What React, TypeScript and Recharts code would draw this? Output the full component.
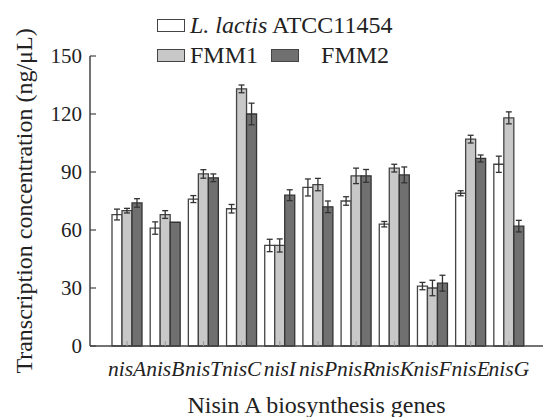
import { BarChart, Bar, XAxis, YAxis, ErrorBar, Legend, Label } from 'recharts';

const genes = ['nisA', 'nisB', 'nisT', 'nisC', 'nisI', 'nisP', 'nisR', 'nisK', 'nisF', 'nisE', 'nisG'];
const lactis = [68, 61, 76, 71, 52, 82, 75, 63, 31, 79, 94];
const lactisErr = [2.8, 3.2, 1.8, 2.2, 3.2, 4.4, 2.2, 1.4, 1.9, 1.3, 4.2];
const fmm1 = [70, 68, 89, 133, 52, 83.5, 88, 92, 30, 107, 118];
const fmm1Err = [1.2, 2, 2.2, 2, 3.4, 3.2, 4, 2, 4, 2, 3.1];
const fmm2 = [74, 64, 87, 120, 78, 72, 88, 88.5, 32.5, 97, 62];
const fmm2Err = [2.2, 0, 2, 5.6, 2.8, 3, 3.3, 4.1, 4.1, 1.8, 3];
const yTicks = [0, 30, 60, 90, 120, 150];

const data = genes.map((g, i) => ({
  gene: g,
  lactis: lactis[i],
  lactisErr: lactisErr[i],
  fmm1: fmm1[i],
  fmm1Err: fmm1Err[i],
  fmm2: fmm2[i],
  fmm2Err: fmm2Err[i],
}));

const FONT = 'Liberation Serif';
const TEXT = '#222';

function LegendBox({ fill }: { fill: string }) {
  return (
    <span
      style={{
        display: 'inline-block',
        width: 26,
        height: 11,
        background: fill,
        border: '1.5px solid #444',
        marginRight: 5,
      }}
    />
  );
}

function TopLegend() {
  return (
    <div style={{ fontFamily: FONT, fontSize: 24, color: TEXT, lineHeight: '30px' }}>
      <div style={{ display: 'flex', alignItems: 'center' }}>
        <LegendBox fill="#ffffff" />
        <span>
          <i>L. lactis</i> ATCC11454
        </span>
      </div>
      <div style={{ display: 'flex', alignItems: 'center' }}>
        <LegendBox fill="#c8c8c8" />
        <span style={{ marginRight: 13 }}>FMM1</span>
        <LegendBox fill="#707070" />
        <span style={{ marginLeft: 17 }}>FMM2</span>
      </div>
    </div>
  );
}

export default function App() {
  return (
    <div style={{ position: 'absolute', left: 0, top: 0, background: '#fff', fontFamily: FONT }}>
      <BarChart
        width={543}
        height={417}
        data={data}
        margin={{ top: 56, right: 0, bottom: 0, left: 0 }}
        barSize={10}
        barGap={0}
        style={{ fontFamily: FONT }}
      >
        <XAxis
          dataKey="gene"
          height={71}
          padding={{ left: 18, right: 15 }}
          axisLine={{ stroke: '#444', strokeWidth: 1.5 }}
          tickLine={{ stroke: '#999' }}
          tickSize={-5}
          tickMargin={20}
          interval={0}
          tick={{ fontFamily: FONT, fontSize: 21.5, fontStyle: 'italic', fill: TEXT }}
        >
          <Label
            value="Nisin A biosynthesis genes"
            position="insideBottom"
            offset={4}
            fontFamily={FONT}
            fontSize={24}
            fill={TEXT}
          />
        </XAxis>
        <YAxis
          width={90}
          domain={[0, 150]}
          ticks={yTicks}
          axisLine={{ stroke: '#444', strokeWidth: 1.5 }}
          tickLine={{ stroke: '#444', strokeWidth: 1.2 }}
          tickSize={-6}
          tickMargin={14}
          tick={{ fontFamily: FONT, fontSize: 21, fill: TEXT }}
        >
          <Label
            value="Transcription concentration (ng/μL)"
            angle={-90}
            position="insideLeft"
            offset={23}
            fontFamily={FONT}
            fontSize={24}
            fill={TEXT}
            style={{ textAnchor: 'middle' }}
          />
        </YAxis>
        <Legend
          content={<TopLegend />}
          verticalAlign="middle"
          align="center"
          wrapperStyle={{ position: 'absolute', top: 10, left: 157, width: 280 }}
        />
        <Bar dataKey="lactis" name="L. lactis ATCC11454" fill="#ffffff" stroke="#444" strokeWidth={1.3} isAnimationActive={false}>
          <ErrorBar dataKey="lactisErr" width={3} stroke="#333" strokeWidth={1.3} />
        </Bar>
        <Bar dataKey="fmm1" name="FMM1" fill="#c8c8c8" stroke="#444" strokeWidth={1.3} isAnimationActive={false}>
          <ErrorBar dataKey="fmm1Err" width={3} stroke="#333" strokeWidth={1.3} />
        </Bar>
        <Bar dataKey="fmm2" name="FMM2" fill="#707070" stroke="#333" strokeWidth={1.3} isAnimationActive={false}>
          <ErrorBar dataKey="fmm2Err" width={3} stroke="#333" strokeWidth={1.3} />
        </Bar>
      </BarChart>
    </div>
  );
}
